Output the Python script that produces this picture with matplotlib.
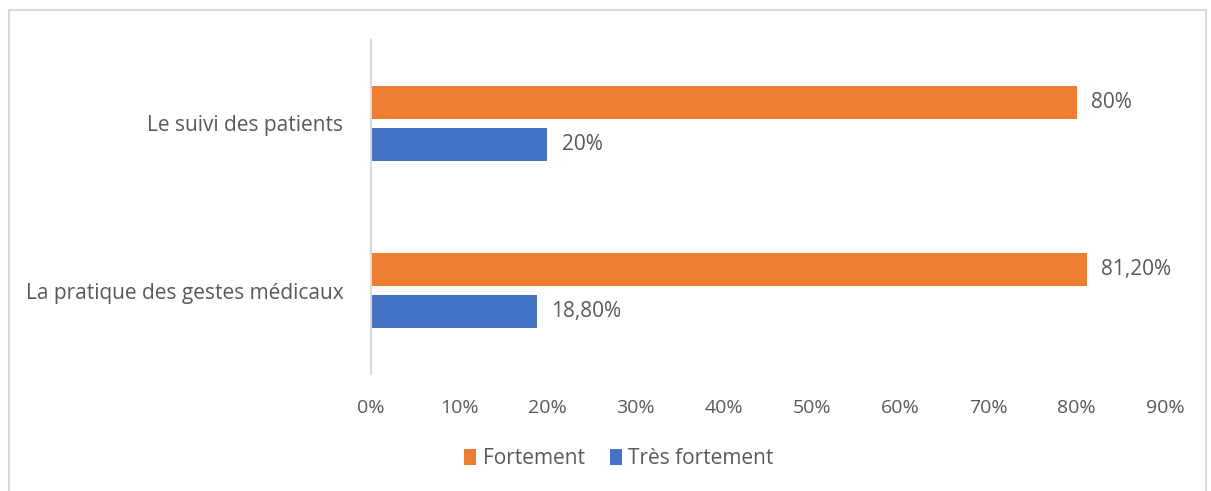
import matplotlib
matplotlib.use("Agg")
import matplotlib.pyplot as plt
import numpy as np
from matplotlib.patches import Rectangle

# Data
categories = ["Le suivi des patients", "La pratique des gestes médicaux"]
fortement = [80.0, 81.2]
tres_fortement = [20.0, 18.8]
fortement_labels = ["80%", "81,20%"]
tres_fortement_labels = ["20%", "18,80%"]
xticks = [0, 10, 20, 30, 40, 50, 60, 70, 80, 90]

ORANGE = "#ED7D31"
BLUE = "#4472C4"
TEXT = "#595959"
LINE = "#D9D9D9"
FS = 15

plt.rcParams["font.family"] = ["Open Sans", "DejaVu Sans"]

fig = plt.figure(figsize=(12.11, 4.91), dpi=100)
ax = fig.add_axes([371 / 1211, 1 - 374 / 491, (1165 - 371) / 1211, 334 / 491])

y = np.arange(len(categories))
h = 0.197
off = 0.125
bars_f = ax.barh(y - off, fortement, height=h, color=ORANGE, label="Fortement")
bars_t = ax.barh(y + off, tres_fortement, height=h, color=BLUE, label="Très fortement")

for bars, labels in [(bars_f, fortement_labels), (bars_t, tres_fortement_labels)]:
    for bar, lab in zip(bars, labels):
        ax.text(bar.get_width() + 1.6, bar.get_y() + bar.get_height() / 2, lab,
                va="center", ha="left", fontsize=FS, color=TEXT)

ax.set_xlim(0, 90)
ax.set_ylim(1.5, -0.5)
ax.set_yticks(y)
ax.set_yticklabels(categories, fontsize=FS, color=TEXT)
ax.set_xticks(xticks)
ax.set_xticklabels([f"{v}%" for v in xticks], fontsize=14, color=TEXT)
ax.tick_params(axis="both", length=0)
ax.tick_params(axis="y", pad=20)
ax.tick_params(axis="x", pad=18)

for side in ["top", "right", "bottom"]:
    ax.spines[side].set_visible(False)
ax.spines["left"].set_color(LINE)
ax.spines["left"].set_linewidth(1.5)

fig.legend(loc="center", bbox_to_anchor=(0.511, 1 - 459 / 491), ncol=2, frameon=False,
           fontsize=FS, labelcolor=TEXT, handlelength=0.6, handleheight=0.8,
           handletextpad=0.3, columnspacing=1.2)

# chart frame
fig.patches.append(Rectangle((9 / 1211, -0.01), 1197 / 1211, 1 - 10 / 491 + 0.01,
                             transform=fig.transFigure, fill=False,
                             edgecolor=LINE, linewidth=1.5))

fig.savefig("out.png", dpi=100)
